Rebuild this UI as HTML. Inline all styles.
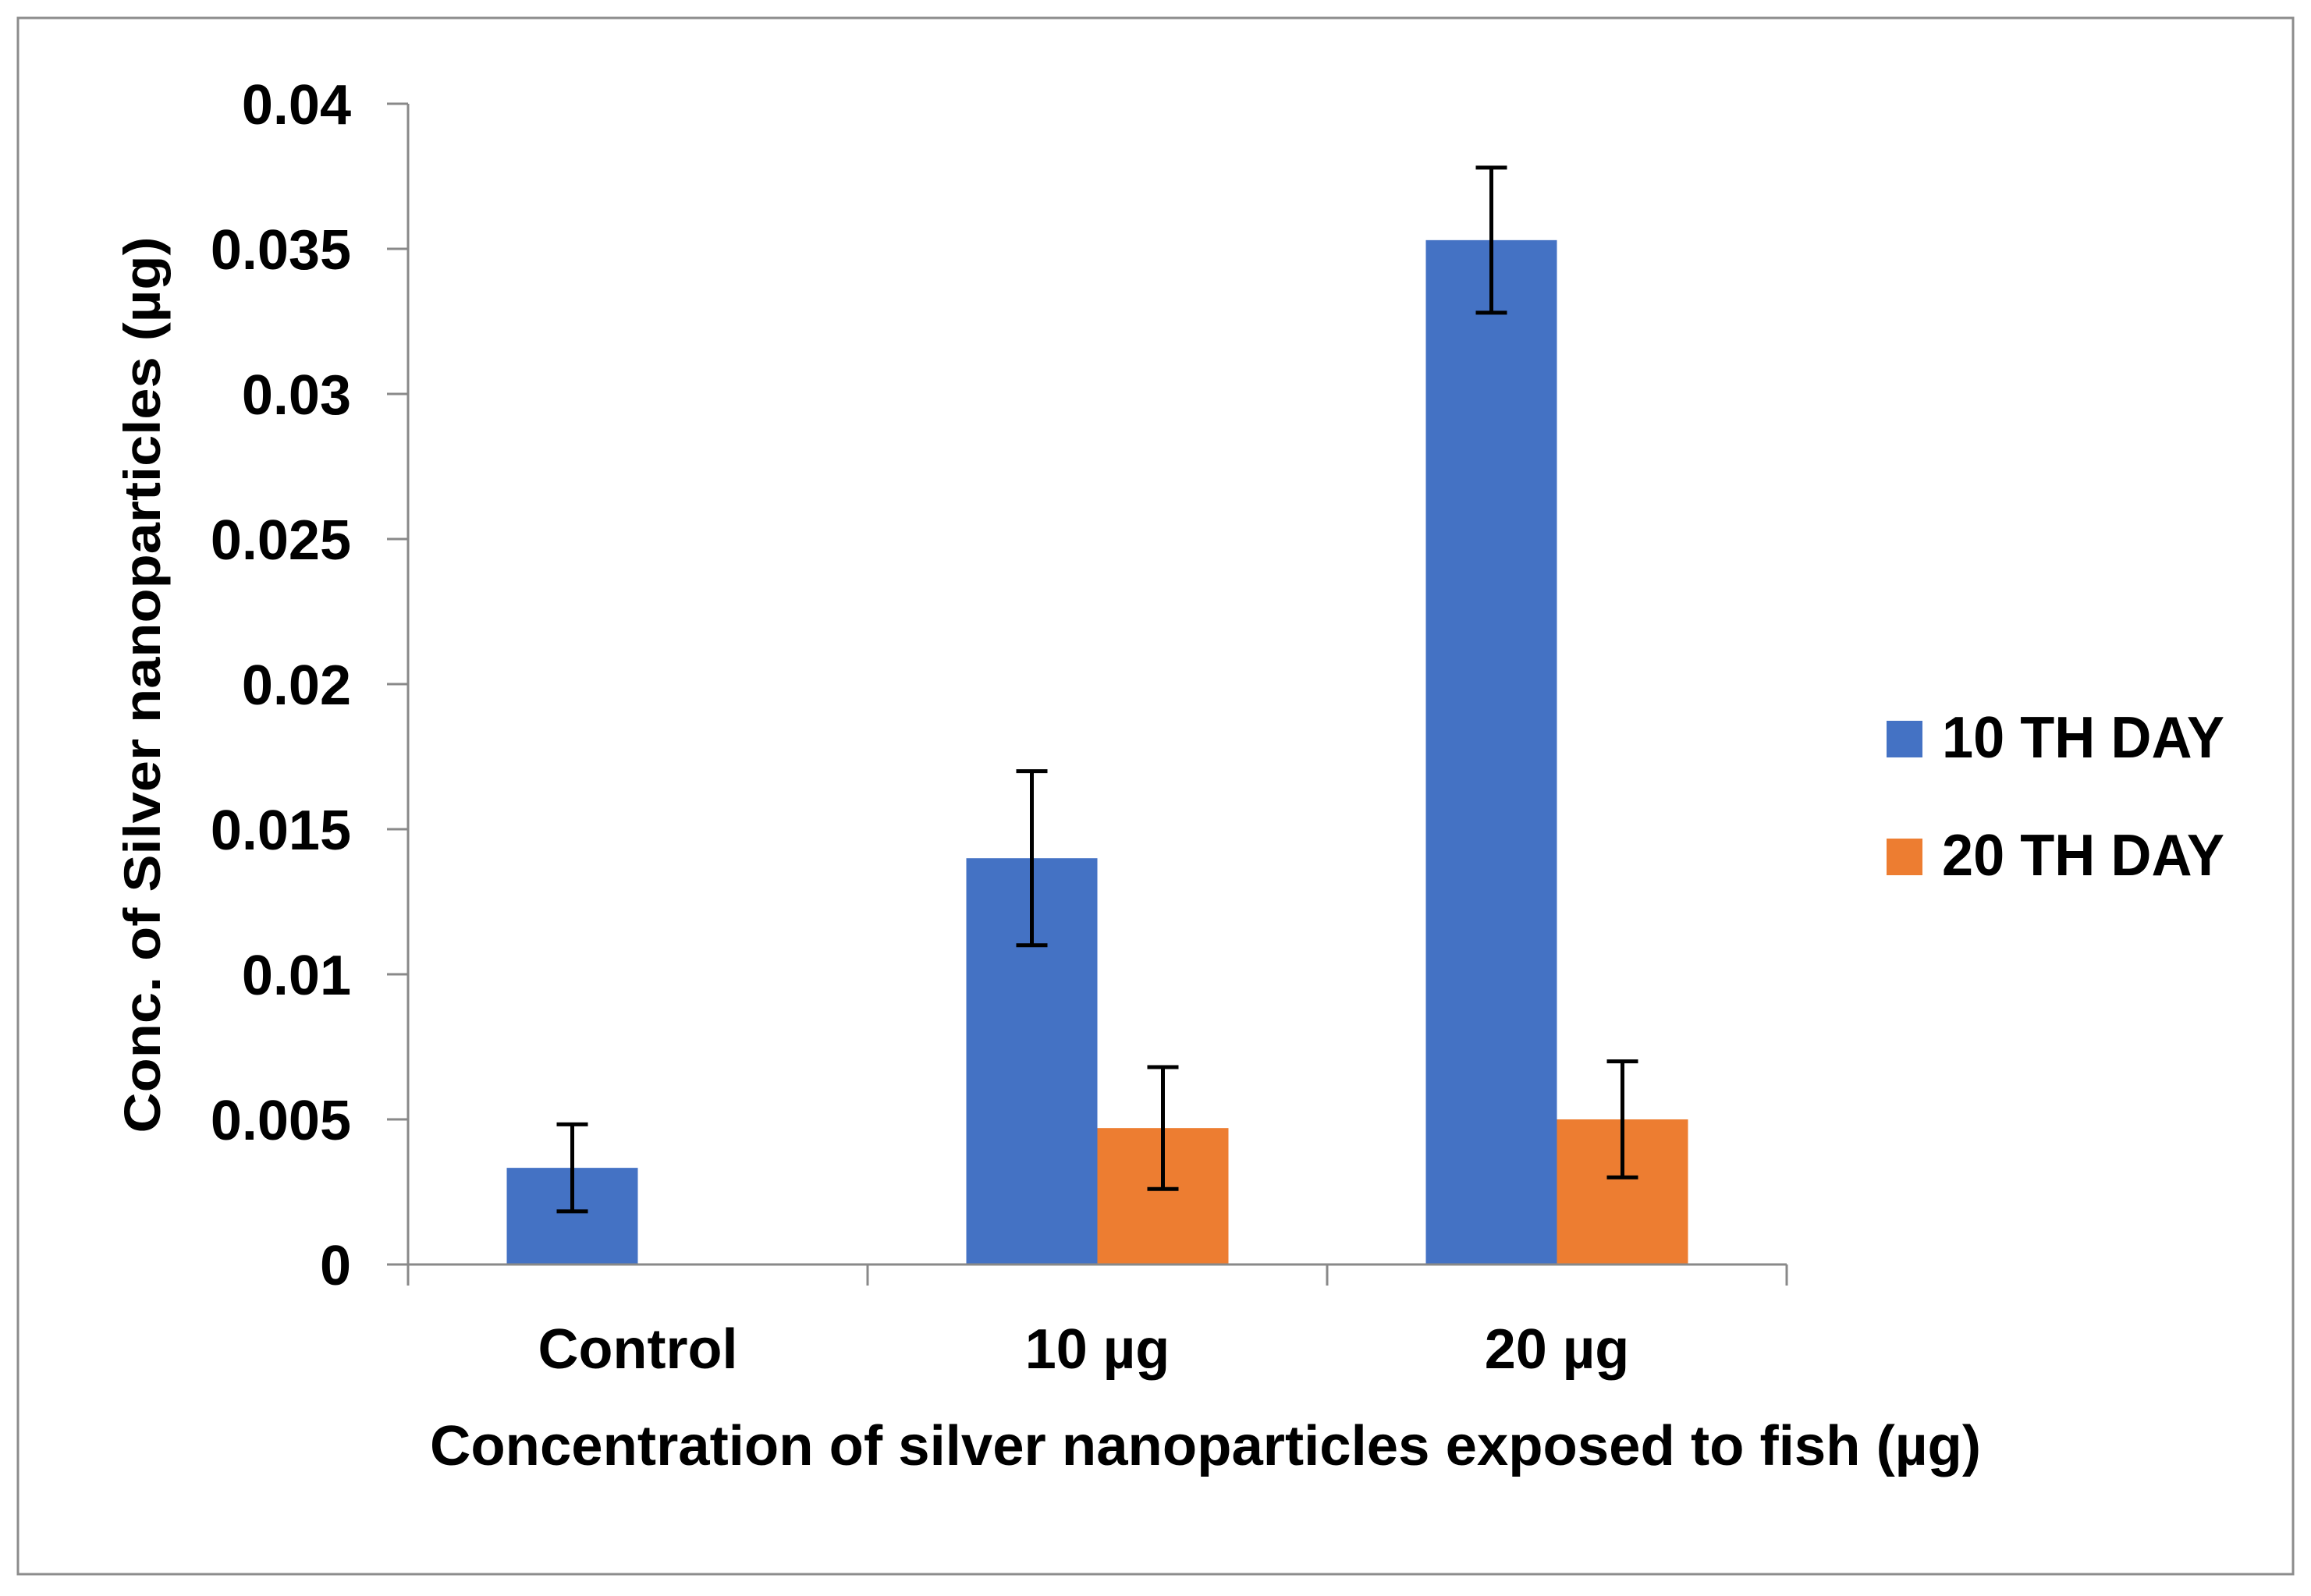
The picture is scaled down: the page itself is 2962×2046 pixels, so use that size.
<!DOCTYPE html>
<html><head><meta charset="utf-8"><style>
html,body{margin:0;padding:0;background:#fff;}
svg{display:block;font-family:"Liberation Sans",sans-serif;font-weight:bold;}
</style></head><body>
<svg id="chart" width="2962" height="2046" viewBox="0 0 2962 2046">
<rect x="23" y="23" width="2916" height="1995" fill="#fff" stroke="#8c8c8c" stroke-width="3"/>
<g id="grid"></g>
<g id="bars"></g>
<g id="axes"></g>
<text transform="translate(205,878) rotate(-90)" text-anchor="middle" font-size="66" textLength="1149" lengthAdjust="spacingAndGlyphs">Conc. of Silver nanoparticles (µg)</text>
<text x="1545" y="1878" text-anchor="middle" font-size="72" textLength="1988" lengthAdjust="spacingAndGlyphs">Concentration of silver nanoparticles exposed to fish (µg)</text>
<g>
<rect x="2418" y="924" width="46" height="47" fill="#4472C4"/>
<text x="2489" y="971" font-size="75" textLength="362" lengthAdjust="spacingAndGlyphs">10 TH DAY</text>
<rect x="2418" y="1075" width="46" height="47" fill="#ED7D31"/>
<text x="2489" y="1122" font-size="75" textLength="362" lengthAdjust="spacingAndGlyphs">20 TH DAY</text>
</g>
</svg>
<script>
const categories = ["Control", "10 µg", "20 µg"];
const day10 = [0.00333, 0.014, 0.0353];
const day20 = [0, 0.0047, 0.005];
const err10 = [0.0015, 0.003, 0.0025];
const err20 = [0, 0.0021, 0.002];
const yTicks = [0, 0.005, 0.01, 0.015, 0.02, 0.025, 0.03, 0.035, 0.04];
const yTickLabels = ["0", "0.005", "0.01", "0.015", "0.02", "0.025", "0.03", "0.035", "0.04"];

const NS = "http://www.w3.org/2000/svg";
const x0 = 523, x1 = 2290, yZero = 1621, yTop = 133, yMax = 0.04;
const y = v => yZero - (v / yMax) * (yZero - yTop);
const band = (x1 - x0) / categories.length;
const barW = 168;
function mk(tag, attrs, parent) {
  const e = document.createElementNS(NS, tag);
  for (const k in attrs) e.setAttribute(k, attrs[k]);
  parent.appendChild(e);
  return e;
}
const bars = document.getElementById('bars');
const axes = document.getElementById('axes');
const series = [{v: day10, e: err10, c: "#4472C4", n: "10th-day", off: -1}, {v: day20, e: err20, c: "#ED7D31", n: "20th-day", off: 0}];
categories.forEach((cat, i) => {
  const cx = x0 + band * (i + 0.5);
  series.forEach(s => {
    const bx = cx + s.off * barW;
    const val = s.v[i];
    if (val > 0) {
      const r = mk('rect', {x: bx, y: y(val), width: barW, height: yZero - y(val), fill: s.c}, bars);
      
      
      const mx = bx + barW / 2, hi = y(val + s.e[i]), lo = y(val - s.e[i]);
      const g = mk('g', {stroke: "#000", "stroke-width": 5}, bars);
      
      
      mk('line', {x1: mx, x2: mx, y1: hi, y2: lo}, g);
      mk('line', {x1: mx - 20, x2: mx + 20, y1: hi, y2: hi}, g);
      mk('line', {x1: mx - 20, x2: mx + 20, y1: lo, y2: lo}, g);
    }
  });
  const t = mk('text', {x: cx, y: 1764 - 10, "text-anchor": "middle", "font-size": 72}, axes);
  t.textContent = cat;
  
  
});
const axisStyle = {stroke: "#898989", "stroke-width": 3};
let l = mk('line', Object.assign({x1: x0, x2: x0, y1: yTop, y2: 1648}, axisStyle), axes);


l = mk('line', Object.assign({x1: 496, x2: x1, y1: yZero, y2: yZero}, axisStyle), axes);


for (let i = 0; i <= categories.length; i++) {
  const tx = x0 + band * i;
  const tk = mk('line', Object.assign({x1: tx, x2: tx, y1: yZero, y2: 1648}, axisStyle), axes);
  
  
}
yTicks.forEach((v, i) => {
  const tk = mk('line', Object.assign({x1: 496, x2: x0, y1: y(v), y2: y(v)}, axisStyle), axes);
  
  
  const t = mk('text', {x: 450, y: y(v) + 26, "text-anchor": "end", "font-size": 72}, axes);
  t.textContent = yTickLabels[i];
  
  
});
</script>
</body></html>
